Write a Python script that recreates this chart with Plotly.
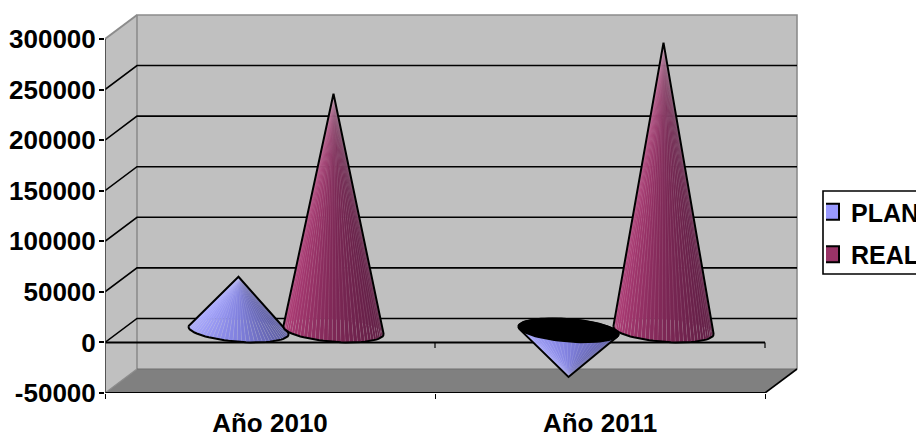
import math
import plotly.graph_objects as go

categories = ["Año 2010", "Año 2011"]
plan_values = [53000, -46000]
real_values = [234000, 284500]
y_ticks = [-50000, 0, 50000, 100000, 150000, 200000, 250000, 300000]

W, H = 916, 435
FONT = "Liberation Sans, Arial, sans-serif"
X_LEFT, X_RIGHT = -0.5, 1.5
Y_LOW, Y_HIGH = -50000, 300000
PX_X = 330.0                      # px per category
PX_Y = 354.0 / 350000             # px per value unit
DEPTH_X = 32 / PX_X               # oblique depth offset in axis units
DEPTH_Y = 24 / PX_Y
X_MAX = X_RIGHT + 37 / PX_X
Y_MAX = Y_LOW + 381 / PX_Y
BAR_OFFSET = 47.5 / PX_X
RADIUS = 47.5 / PX_X

fig = go.Figure()


def poly(xs, ys, fill=None, line=None, width=0):
    fig.add_trace(go.Scatter(
        x=xs, y=ys, mode="lines" if width else "none",
        fill="toself" if fill else None, fillcolor=fill,
        line=dict(color=line or "rgba(0,0,0,0)", width=width),
        hoverinfo="skip", showlegend=False, cliponaxis=False))


# walls and floor
back_l, back_r = X_LEFT + DEPTH_X, X_RIGHT + DEPTH_X
back_low, back_high = Y_LOW + DEPTH_Y, Y_HIGH + DEPTH_Y
poly([X_LEFT, back_l, back_l, X_LEFT, X_LEFT], [Y_LOW, back_low, back_high, Y_HIGH, Y_LOW], "#C0C0C0")
poly([back_l, back_r, back_r, back_l, back_l], [back_low, back_low, back_high, back_high, back_low], "#C0C0C0")
poly([X_LEFT, back_l, back_r, X_RIGHT, X_LEFT], [Y_LOW, back_low, back_low, Y_LOW, Y_LOW], "#808080")
poly([back_l, back_l, back_r, back_r], [back_low, back_high, back_high, back_low], None, "#8C8C8C", 1.6)
poly([X_LEFT, back_l], [Y_LOW, back_low], None, "#8C8C8C", 1.2)
poly([X_LEFT, back_l], [Y_HIGH, back_high], None, "#8C8C8C", 2)
poly([back_l, back_r], [back_low, back_low], None, "#6E6E6E", 1.2)

# gridlines (wall + side wall)
for v in y_ticks[1:-1]:
    poly([X_LEFT, back_l, back_r], [v, v + DEPTH_Y, v + DEPTH_Y], None, "#000000", 1.6)

# front axes
poly([X_LEFT, X_RIGHT], [0, 0], None, "#000000", 2)
poly([X_LEFT, X_RIGHT], [Y_LOW, Y_LOW], None, "#000000", 2)
poly([X_RIGHT, back_r], [Y_LOW, back_low], None, "#000000", 1.6)
poly([X_LEFT, X_LEFT], [Y_LOW, Y_HIGH], None, "#3A3A3A", 1.6)
for tick_x in (0.5, 1.5):
    poly([tick_x, tick_x], [0, -5.5 / PX_Y], None, "#000000", 1.2)


def shade(rgb_stops, f):
    f = max(0.0, min(1.0, f)) * (len(rgb_stops) - 1)
    i = min(int(f), len(rgb_stops) - 2)
    t = f - i
    c = [rgb_stops[i][k] * (1 - t) + rgb_stops[i + 1][k] * t for k in range(3)]
    return "rgb(%d,%d,%d)" % tuple(c)


def hull(points):
    pts = sorted(set(points))

    def half(seq):
        out = []
        for p in seq:
            while len(out) > 1 and (out[-1][0] - out[-2][0]) * (p[1] - out[-2][1]) - (out[-1][1] - out[-2][1]) * (p[0] - out[-2][0]) <= 0:
                out.pop()
            out.append(p)
        return out[:-1]

    return half(pts) + half(pts[::-1])


def cone(x_center, value, stops):
    cx = x_center + DEPTH_X / 2
    cy = DEPTH_Y / 2
    n = 72
    ts = [2 * math.pi * i / n for i in range(n)]

    def rim(t):
        return (cx + RADIUS * math.cos(t) + DEPTH_X / 2 * math.sin(t), cy - DEPTH_Y / 2 * math.sin(t))

    order = sorted(range(n), key=lambda i: rim(ts[i] + math.pi / n)[1], reverse=True)
    apex = (cx, cy + value)
    for i in order:
        a, b = rim(ts[i]), rim(ts[(i + 1) % n] if i + 1 < n else ts[0])
        mid = rim(ts[i] + math.pi / n)
        f = (mid[0] - cx) / (RADIUS * 1.06) * 0.5 + 0.5
        poly([apex[0], a[0], b[0], apex[0]], [apex[1], a[1], b[1], apex[1]], shade(stops, f),
             "rgba(255,255,255,0.16)", 0.5)
    ring = [rim(t) for t in ts]
    if value < 0:
        poly([p[0] for p in ring] + [ring[0][0]], [p[1] for p in ring] + [ring[0][1]], "#000000", "#000000", 1.5)
    h = hull(ring + [apex])
    h.append(h[0])
    poly([p[0] for p in h], [p[1] for p in h], None, "#000000", 2)


PLAN_STOPS = [(168, 168, 255), (128, 128, 222), (92, 92, 160)]
REAL_STOPS = [(172, 58, 116), (126, 40, 86), (96, 30, 68)]

for i in range(len(categories)):
    cone(i - BAR_OFFSET, plan_values[i], PLAN_STOPS)
    cone(i + BAR_OFFSET, real_values[i], REAL_STOPS)

# legend entries
for name, colour in (("PLAN", "#9999FF"), ("REAL", "#993366")):
    fig.add_trace(go.Scatter(
        x=[None], y=[None], mode="markers", name=name, legendgroup=name,
        marker=dict(symbol="square", size=16, color=colour, line=dict(color="#000000", width=2))))

fig.update_layout(
    width=W, height=H, autosize=False,
    margin=dict(l=105, r=W - 802, t=12, b=H - 393, autoexpand=False),
    paper_bgcolor="white", plot_bgcolor="white",
    font=dict(family=FONT, size=26, color="#000000", weight="bold"),
    xaxis=dict(range=[X_LEFT, X_MAX], tickvals=[0, 1], ticktext=categories,
               ticks="", showgrid=False, zeroline=False, showline=False,
               ticklabelstandoff=12,
               minor=dict(tickvals=[-0.5, 0.5, 1.5], ticks="outside", ticklen=5, tickwidth=1.2, tickcolor="#000000")),
    yaxis=dict(range=[Y_LOW, Y_MAX], tickvals=y_ticks, ticktext=[str(v) for v in y_ticks],
               ticks="outside", ticklen=5, tickwidth=1.5, tickcolor="#000000",
               ticklabelstandoff=-2,
               showgrid=False, zeroline=False, showline=False),
    legend=dict(x=(826 - 105) / 697, xanchor="left", y=1 - (189 - 12) / 381, yanchor="top",
                bgcolor="rgba(0,0,0,0)", borderwidth=0, tracegroupgap=7, indentation=-15,
                font=dict(family=FONT, size=25, color="#000000", weight="bold"),
                itemclick=False, itemdoubleclick=False),
    shapes=[dict(type="rect", xref="paper", yref="paper", layer="below",
                 x0=(823 - 105) / 697, x1=(940 - 105) / 697,
                 y0=1 - (274 - 12) / 381, y1=1 - (191 - 12) / 381,
                 fillcolor="white", line=dict(color="#000000", width=1.6))],
    hovermode=False,
)

fig.write_html("out.html", config={"displayModeBar": False},
               post_script="document.body.style.margin='0';document.documentElement.style.overflow='hidden';")
